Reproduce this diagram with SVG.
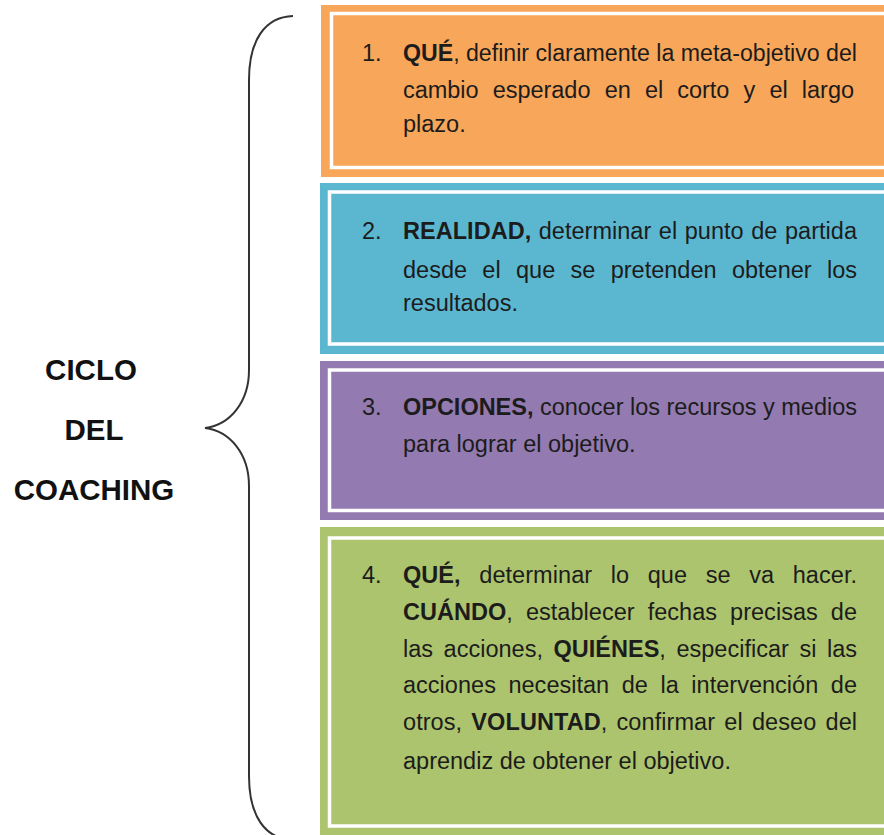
<svg xmlns="http://www.w3.org/2000/svg" width="884" height="835" viewBox="0 0 884 835">
<style>
.inner{fill:none;stroke:#ffffff;stroke-width:3.5}
.t{font-family:"Liberation Sans",Arial,sans-serif;font-size:23.5px;fill:#1c1c1c}
.b{font-weight:bold}
.lbl{font-family:"Liberation Sans",Arial,sans-serif;font-size:29.5px;font-weight:bold;fill:#111;text-anchor:middle}
.brace{fill:none;stroke:#333;stroke-width:2}
</style>
<rect width="884" height="835" fill="#ffffff"/>
<g id="label">
<text class="lbl" x="91" y="380">CICLO</text>
<text class="lbl" x="94" y="440">DEL</text>
<text class="lbl" x="94" y="500">COACHING</text>
</g>
<g id="connectors">
<path class="brace" d="M293,16 C265,17 249,40 249,80 L249,370 C249,402 230,425 205,428 C230,431 249,454 249,486 L249,776 C249,816 265,839 293,840"/>
</g>
<g id="box1">
<rect x="321" y="5" width="600" height="172" fill="#F8A659"/>
<rect class="inner" x="331.5" y="13.5" width="600" height="154"/>
<text class="t" x="362" y="60.7">1.</text>
<text class="t" x="403" y="60.7" textLength="454" lengthAdjust="spacingAndGlyphs"><tspan class="b">QUÉ</tspan>, definir claramente la meta-objetivo del</text>
<text class="t" x="403" y="97.8" word-spacing="7.7" textLength="451" lengthAdjust="spacing">cambio esperado en el corto y el largo</text>
<text class="t" x="403" y="131.7">plazo.</text>
</g>
<g id="box2">
<rect x="320" y="183" width="600" height="171" fill="#5BB7D0"/>
<rect class="inner" x="329.5" y="192" width="600" height="152"/>
<text class="t" x="362" y="239.3">2.</text>
<text class="t" x="403" y="239.3" word-spacing="1" textLength="454" lengthAdjust="spacing"><tspan class="b">REALIDAD,</tspan> determinar el punto de partida</text>
<text class="t" x="403" y="278" word-spacing="8.8" textLength="454" lengthAdjust="spacing">desde el que se pretenden obtener los</text>
<text class="t" x="403" y="310.5">resultados.</text>
</g>
<g id="box3">
<rect x="320" y="361" width="600" height="159" fill="#937AB0"/>
<rect class="inner" x="329.5" y="370" width="600" height="140.5"/>
<text class="t" x="362" y="415">3.</text>
<text class="t" x="403" y="415" textLength="454" lengthAdjust="spacingAndGlyphs"><tspan class="b">OPCIONES,</tspan> conocer los recursos y medios</text>
<text class="t" x="403" y="451.7">para lograr el objetivo.</text>
</g>
<g id="box4">
<rect x="320" y="527" width="600" height="310" fill="#ACC46D"/>
<rect class="inner" x="329.5" y="538" width="600" height="288"/>
<text class="t" x="362" y="582.7">4.</text>
<text class="t" x="403" y="582.7" word-spacing="12" textLength="454" lengthAdjust="spacing"><tspan class="b">QUÉ,</tspan> determinar lo que se va hacer.</text>
<text class="t" x="403" y="620" word-spacing="6.5" textLength="454" lengthAdjust="spacing"><tspan class="b">CUÁNDO</tspan>, establecer fechas precisas de</text>
<text class="t" x="403" y="656.7" word-spacing="4" textLength="454" lengthAdjust="spacing">las acciones, <tspan class="b">QUIÉNES</tspan>, especificar si las</text>
<text class="t" x="403" y="693.3" word-spacing="6" textLength="454" lengthAdjust="spacing">acciones necesitan de la intervención de</text>
<text class="t" x="403" y="730" word-spacing="2.6" textLength="454" lengthAdjust="spacing">otros, <tspan class="b">VOLUNTAD</tspan>, confirmar el deseo del</text>
<text class="t" x="403" y="769">aprendiz de obtener el objetivo.</text>
</g>
</svg>
